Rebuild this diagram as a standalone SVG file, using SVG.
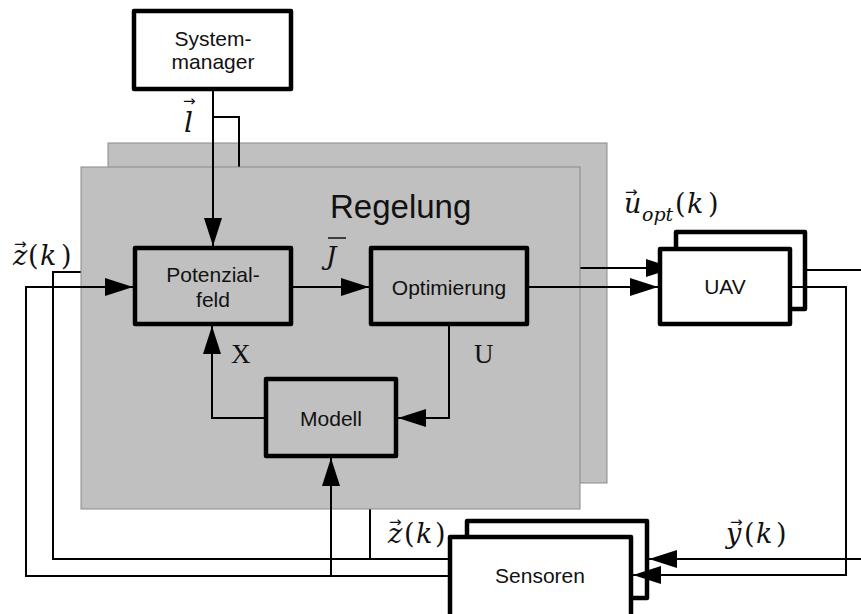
<svg xmlns="http://www.w3.org/2000/svg" width="861" height="614" viewBox="0 0 861 614">
<style>
.box{fill:#fff;stroke:#000;stroke-width:4.5;stroke-linejoin:round}
.gbox{fill:#c0c0c0;stroke:#000;stroke-width:4.5;stroke-linejoin:round}
.gray{fill:#c0c0c0;stroke:#8a8a8a;stroke-width:1}
.ln{fill:none;stroke:#000;stroke-width:2}
.t{font-family:"Liberation Sans",Arial,sans-serif;font-size:21px;text-anchor:middle;fill:#111}
.m{font-family:"DejaVu Serif",serif;font-size:27px;fill:#111}
.i{font-style:italic}
.arr{font-family:"DejaVu Sans",sans-serif;font-size:15px;font-style:normal}
.r{font-family:"Liberation Serif",serif;font-size:27px;fill:#111}
</style>
<defs>
<marker id="ah" markerWidth="28" markerHeight="18" refX="28" refY="9" orient="auto" markerUnits="userSpaceOnUse"><path d="M0,0 L28,9 L0,18 z" fill="#000"/></marker>
</defs>
<rect id="regelung-back" class="gray" x="108" y="143" width="499" height="340"/>
<g id="connectors-back">
<path class="ln" d="M213,117 H239 V170"/>
<path class="ln" d="M450,559 H53 V272 H110"/>
<path class="ln" d="M370,559 V500"/>
<path class="ln" d="M560,268 H674" marker-end="url(#ah)"/>
</g>
<g id="regelung">
<rect class="gray" x="81" y="167" width="499" height="342"/>
<text x="330" y="218" style="font-family:'Liberation Sans',Arial,sans-serif;font-size:33px;fill:#111">Regelung</text>
</g>
<g id="uav">
<rect class="box" x="676" y="232" width="129" height="77"/>
<rect class="box" x="660" y="249" width="130" height="75"/>
<text class="t" x="725" y="294">UAV</text>
</g>
<g id="sensoren">
<rect class="box" x="467" y="521" width="180" height="77"/>
<rect class="box" x="450" y="537" width="181" height="90"/>
<text class="t" x="540" y="583">Sensoren</text>
</g>
<g id="connectors">
<path class="ln" d="M213,91 V246" marker-end="url(#ah)"/>
<path class="ln" d="M293,287 H369" marker-end="url(#ah)"/>
<path class="ln" d="M529,287 H658" marker-end="url(#ah)"/>
<path class="ln" d="M449,326 V418 H398" marker-end="url(#ah)"/>
<path class="ln" d="M264,418 H212 V326" marker-end="url(#ah)"/>
<path class="ln" d="M450,576 H26 V287 H133" marker-end="url(#ah)"/>
<path class="ln" d="M331,576 V458" marker-end="url(#ah)"/>
<path class="ln" d="M807,270 H861"/>
<path class="ln" d="M792,287 H846 V575 H633" marker-end="url(#ah)"/>
<path class="ln" d="M861,559 H649" marker-end="url(#ah)"/>
</g>
<g id="systemmanager">
<rect class="box" x="134" y="11" width="157" height="78"/>
<text class="t" x="213" y="46">System-</text>
<text class="t" x="213" y="69">manager</text>
</g>
<g id="potenzialfeld">
<rect class="gbox" x="135" y="248" width="156" height="76"/>
<text class="t" x="213" y="282">Potenzial-</text>
<text class="t" x="213" y="307">feld</text>
</g>
<g id="optimierung">
<rect class="gbox" x="371" y="248" width="156" height="76"/>
<text class="t" x="449" y="295">Optimierung</text>
</g>
<g id="modell">
<rect class="gbox" x="266" y="379" width="130" height="77"/>
<text class="t" x="331" y="426">Modell</text>
</g>
<g id="labels">
<text class="m i" style="font-size:28px"><tspan class="arr" x="183" y="106">→</tspan><tspan x="184" y="132">l</tspan></text>
<text class="m"><tspan class="arr" x="14" y="249">→</tspan><tspan class="i" x="13" y="265">z</tspan><tspan x="28" y="265">(</tspan><tspan class="i" x="40" y="265">k</tspan><tspan x="61" y="265">)</tspan></text>
<line x1="328" y1="238" x2="346" y2="238" stroke="#111" stroke-width="1.5"/>
<text class="m i" x="326" y="265" style="font-size:26px">J</text>
<text class="r" x="231" y="363">X</text>
<text class="r" x="474" y="363">U</text>
<text class="m"><tspan class="arr" x="625" y="197">→</tspan><tspan class="i" x="624" y="213">u</tspan><tspan class="i" x="642" y="221" style="font-size:19px">opt</tspan><tspan x="675" y="213">(</tspan><tspan class="i" x="687" y="213">k</tspan><tspan x="708" y="213">)</tspan></text>
<text class="m"><tspan class="arr" x="389" y="527">→</tspan><tspan class="i" x="388" y="543">z</tspan><tspan x="404" y="543">(</tspan><tspan class="i" x="416" y="543">k</tspan><tspan x="435" y="543">)</tspan></text>
<text class="m"><tspan class="arr" x="730" y="527">→</tspan><tspan class="i" x="726" y="543">y</tspan><tspan x="744" y="543">(</tspan><tspan class="i" x="756" y="543">k</tspan><tspan x="776" y="543">)</tspan></text>
</g>
</svg>
